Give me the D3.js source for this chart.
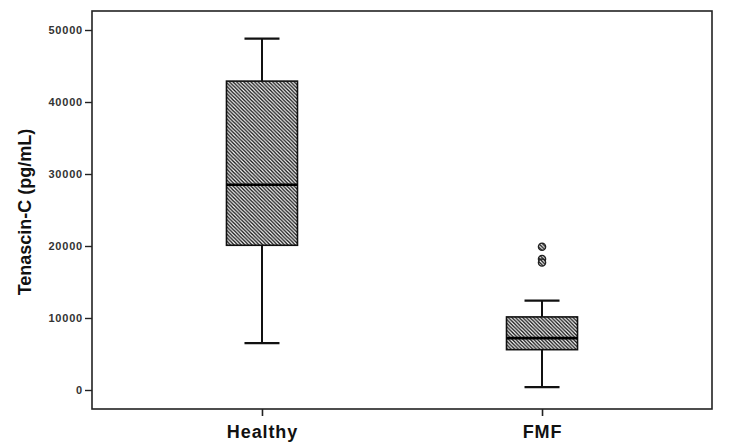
<!DOCTYPE html>
<html>
<head>
<meta charset="utf-8">
<script src="https://cdn.jsdelivr.net/npm/d3@7"></script>
<style>
  body { margin: 0; background: #fff; }
  svg { display: block; font-family: "Liberation Sans", Arial, sans-serif; }
</style>
</head>
<body>
<div id="chart"></div>
<script>
// Box plot summary values
const groups = ["Healthy", "FMF"];
const whiskerLow = [6500, 400];
const q1 = [20100, 5600];
const median = [28500, 7200];
const q3 = [42900, 10150];
const whiskerHigh = [48800, 12400];
const outliers = [[], [19900, 18200, 17700]];
const yTicks = [0, 10000, 20000, 30000, 40000, 50000];

const width = 750, height = 443;
const frame = { left: 92, right: 712, top: 11, bottom: 409 };

const svg = d3.select("#chart").append("svg")
    .attr("width", width)
    .attr("height", height);

// hatch fill for boxes
const defs = svg.append("defs");
const s = 3.6;
const pat = defs.append("pattern")
    .attr("id", "hatch")
    .attr("patternUnits", "userSpaceOnUse")
    .attr("width", s)
    .attr("height", s);
pat.append("rect").attr("width", s).attr("height", s).attr("fill", "#fff");
pat.append("path")
    .attr("d", `M0,0L${s},${s}M${-s / 2},${s / 2}L${s / 2},${s * 1.5}M${s / 2},${-s / 2}L${s * 1.5},${s / 2}`)
    .attr("stroke", "#111")
    .attr("stroke-width", 1.35);

const y = d3.scaleLinear()
    .domain([-2640, 52640])
    .range([frame.bottom, frame.top]);

const x = d3.scalePoint()
    .domain(groups)
    .range([frame.left, frame.right])
    .padding(0.607);

const boxW = 71, capW = 35;

// frame
svg.append("rect")
    .attr("x", frame.left)
    .attr("y", frame.top)
    .attr("width", frame.right - frame.left)
    .attr("height", frame.bottom - frame.top)
    .attr("fill", "none")
    .attr("stroke", "#222")
    .attr("stroke-width", 1.6);

// y axis
const yAxis = svg.append("g")
    .attr("transform", `translate(${frame.left},0)`)
    .call(d3.axisLeft(y).tickValues(yTicks).tickSize(7).tickPadding(2).tickFormat(d3.format("d")));
yAxis.select(".domain").remove();
yAxis.selectAll("line").attr("stroke", "#222").attr("stroke-width", 1.4);
yAxis.selectAll("text")
    .attr("font-size", 11)
    .attr("font-weight", "bold")
    .attr("letter-spacing", 0.8)
    .attr("fill", "#333")
    .style("font-family", "'Liberation Sans', Arial, sans-serif");

// x axis
const xAxis = svg.append("g")
    .attr("transform", `translate(0,${frame.bottom})`)
    .call(d3.axisBottom(x).tickSize(7).tickPadding(9));
xAxis.select(".domain").remove();
xAxis.selectAll("line").attr("stroke", "#222").attr("stroke-width", 1.6);
xAxis.selectAll("text")
    .attr("font-size", 18)
    .attr("font-weight", "bold")
    .attr("letter-spacing", 0.9)
    .attr("fill", "#111")
    .style("font-family", "'Liberation Sans', Arial, sans-serif");

// y axis title
svg.append("text")
    .attr("transform", `translate(31,212) rotate(-90)`)
    .attr("text-anchor", "middle")
    .attr("font-size", 18)
    .attr("font-weight", "bold")
    .attr("fill", "#111")
    .text("Tenascin-C (pg/mL)");

const boxes = svg.append("g");

groups.forEach((g, i) => {
    const cx = x(g);
    const gg = boxes.append("g");
    // whiskers
    gg.append("line")
        .attr("x1", cx).attr("x2", cx)
        .attr("y1", y(whiskerHigh[i])).attr("y2", y(q3[i]))
        .attr("stroke", "#111").attr("stroke-width", 2);
    gg.append("line")
        .attr("x1", cx).attr("x2", cx)
        .attr("y1", y(q1[i])).attr("y2", y(whiskerLow[i]))
        .attr("stroke", "#111").attr("stroke-width", 2);
    [whiskerHigh[i], whiskerLow[i]].forEach(v => {
        gg.append("line")
            .attr("x1", cx - capW / 2).attr("x2", cx + capW / 2)
            .attr("y1", y(v)).attr("y2", y(v))
            .attr("stroke", "#111").attr("stroke-width", 2.2);
    });
    // box
    gg.append("rect")
        .attr("x", cx - boxW / 2)
        .attr("y", y(q3[i]))
        .attr("width", boxW)
        .attr("height", y(q1[i]) - y(q3[i]))
        .attr("fill", "url(#hatch)")
        .attr("stroke", "#111")
        .attr("stroke-width", 1.6);
    // median
    gg.append("line")
        .attr("x1", cx - boxW / 2).attr("x2", cx + boxW / 2)
        .attr("y1", y(median[i])).attr("y2", y(median[i]))
        .attr("stroke", "#000").attr("stroke-width", 2.6);
    // outliers
    gg.selectAll("circle")
        .data(outliers[i])
        .join("circle")
        .attr("cx", cx)
        .attr("cy", d => y(d))
        .attr("r", 3.6)
        .attr("fill", "url(#hatch)")
        .attr("stroke", "#222")
        .attr("stroke-width", 1.4);
});
</script>
</body>
</html>
